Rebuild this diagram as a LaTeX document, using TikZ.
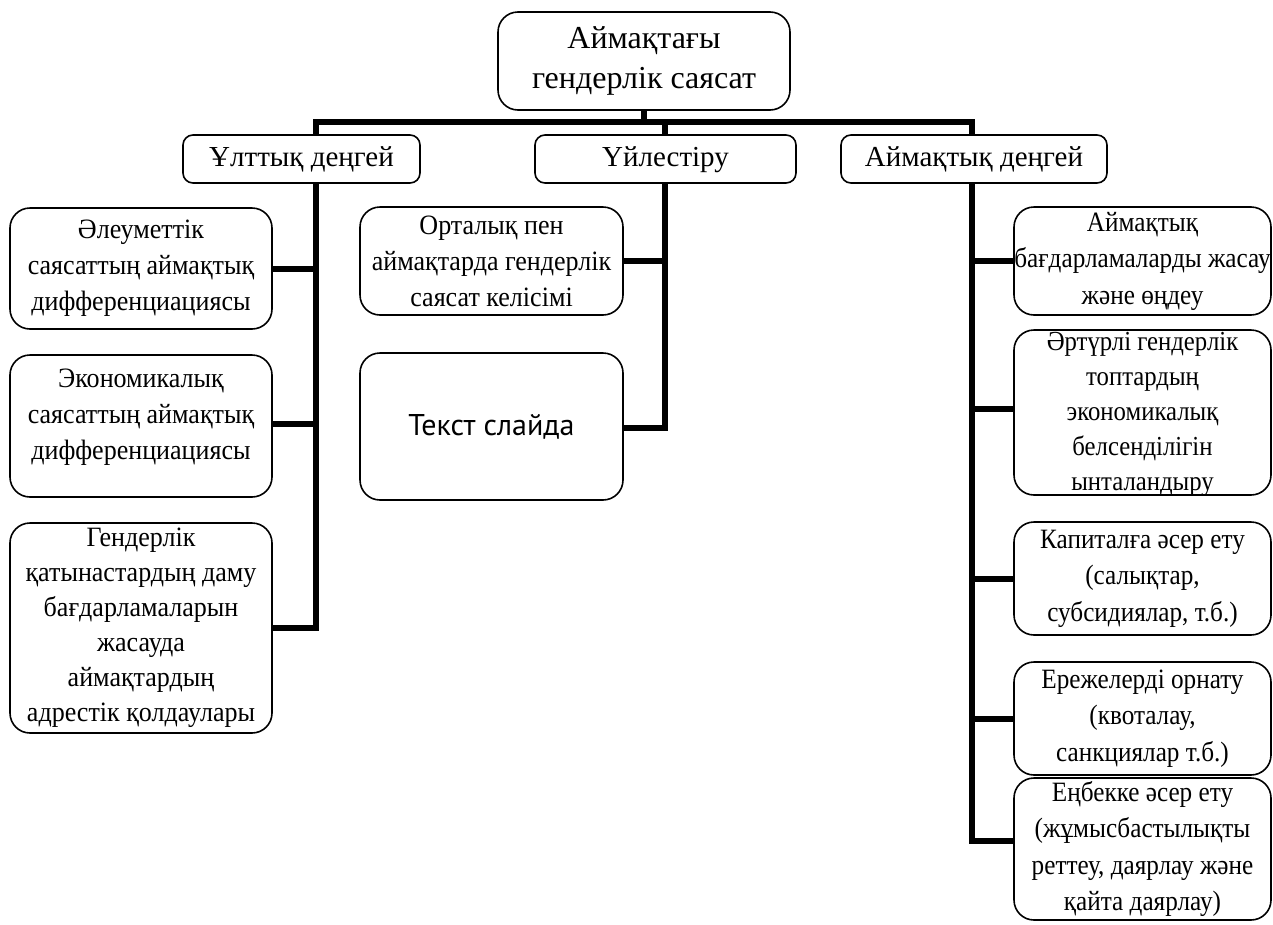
\documentclass[tikz,border=0pt]{standalone}
\usepackage{fontspec}
\setmainfont{Liberation Serif}
\newfontfamily\bodyfont[FakeStretch=0.93]{Liberation Serif}
\newfontfamily\rightfont[FakeStretch=0.9]{Liberation Serif}
\newfontfamily\slidefont{PT Sans}
\begin{document}
\begin{tikzpicture}[x=1pt,y=-1pt,
  box/.style={draw, line width=1.6pt, fill=white, rounded corners=20pt, align=center, inner sep=0pt,
    font=\bodyfont\fontsize{28}{36}\selectfont},
  rbox/.style={box, font=\rightfont\fontsize{28}{36.5}\selectfont},
  hbox/.style={box, rounded corners=10pt, font=\fontsize{29}{34}\selectfont, text height=20pt, text depth=6pt},
  txt/.style={align=center, inner sep=0pt},
  conn/.style={line width=6pt, line join=miter}]
\useasboundingbox (0,0) rectangle (1273,924);
% boxes
\node[box, minimum width=292pt, minimum height=98pt, font=\fontsize{32}{40}\selectfont] (top) at (644,61) {Аймақтағы\\гендерлік саясат};
\node[hbox, minimum width=237pt, minimum height=48pt] (nat) at (301.5,159) {Ұлттық деңгей};
\node[hbox, minimum width=261pt, minimum height=48pt] (crd) at (665.5,159) {Үйлестіру};
\node[hbox, minimum width=266pt, minimum height=48pt] (reg) at (974,159) {Аймақтық деңгей};
\node[box, minimum width=262pt, minimum height=121pt] (L1) at (141,268.5) {Әлеуметтік\\саясаттың аймақтық\\дифференциациясы};
\node[box, minimum width=262pt, minimum height=142pt] (L2) at (141,426) {};
\node[txt, font=\bodyfont\fontsize{28}{36}\selectfont] (L2t) at (141,417) {Экономикалық\\саясаттың аймақтық\\дифференциациясы};
\node[box, minimum width=262pt, minimum height=210pt, font=\bodyfont\fontsize{28}{35}\selectfont] (L3) at (141,628) {Гендерлік\\қатынастардың даму\\бағдарламаларын\\жасауда\\аймақтардың\\адрестік қолдаулары};
\node[box, minimum width=263pt, minimum height=108pt] (M1) at (491.5,261) {Орталық пен\\аймақтарда гендерлік\\саясат келісімі};
\node[box, minimum width=263pt, minimum height=147pt, font=\slidefont\fontsize{30}{34}\selectfont] (M2) at (491.5,426.5) {Текст слайда};
\node[rbox, minimum width=257pt, minimum height=108pt] (R1) at (1142.5,261) {Аймақтық\\бағдарламаларды жасау\\және өңдеу};
\node[rbox, minimum width=257pt, minimum height=165pt] (R2) at (1142.5,412.5) {};
\node[txt, font=\rightfont\fontsize{27.5}{35}\selectfont] (R2t) at (1142.5,414) {Әртүрлі гендерлік\\топтардың\\экономикалық\\белсенділігін\\ынталандыру};
\node[rbox, minimum width=257pt, minimum height=113pt] (R3) at (1142.5,578.5) {Капиталға әсер ету\\(салықтар,\\субсидиялар, т.б.)};
\node[rbox, minimum width=257pt, minimum height=113pt] (R4) at (1142.5,718.5) {Ережелерді орнату\\(квоталау,\\санкциялар т.б.)};
\node[rbox, minimum width=257pt, minimum height=142pt] (R5) at (1142.5,849) {Еңбекке әсер ету\\(жұмысбастылықты\\реттеу, даярлау және\\қайта даярлау)};
% connectors
\coordinate (tn) at (316,122);
\coordinate (tr) at (972,122);
\coordinate (tc) at (665,122);
\draw[conn] (top.south) -- (top.south |- tn);
\draw[conn] (tn |- nat.north) -- (tn) -- (tr) -- (tr |- reg.north);
\draw[conn] (tc) -- (tc |- crd.north);
% national
\draw[conn] (tn |- nat.south) -- (tn |- L3.east) -- (L3.east);
\draw[conn] (L1.east) -- (L1.east -| tn);
\draw[conn] ([yshift=2pt]L2.east) -- ([yshift=2pt]L2.east -| tn);
% coordination
\draw[conn] (tc |- crd.south) -- ([yshift=-1pt]tc |- M2.east) -- ([yshift=-1pt]M2.east);
\draw[conn] (M1.east) -- (M1.east -| tc);
% regional
\draw[conn] (tr |- reg.south) -- ([yshift=8pt]tr |- R5.west) -- ([yshift=8pt]R5.west);
\draw[conn] (R1.west) -- (R1.west -| tr);
\draw[conn] ([yshift=4pt]R2.west) -- ([yshift=4pt]R2.west -| tr);
\draw[conn] (R3.west) -- (R3.west -| tr);
\draw[conn] (R4.west) -- (R4.west -| tr);
\end{tikzpicture}
\end{document}
